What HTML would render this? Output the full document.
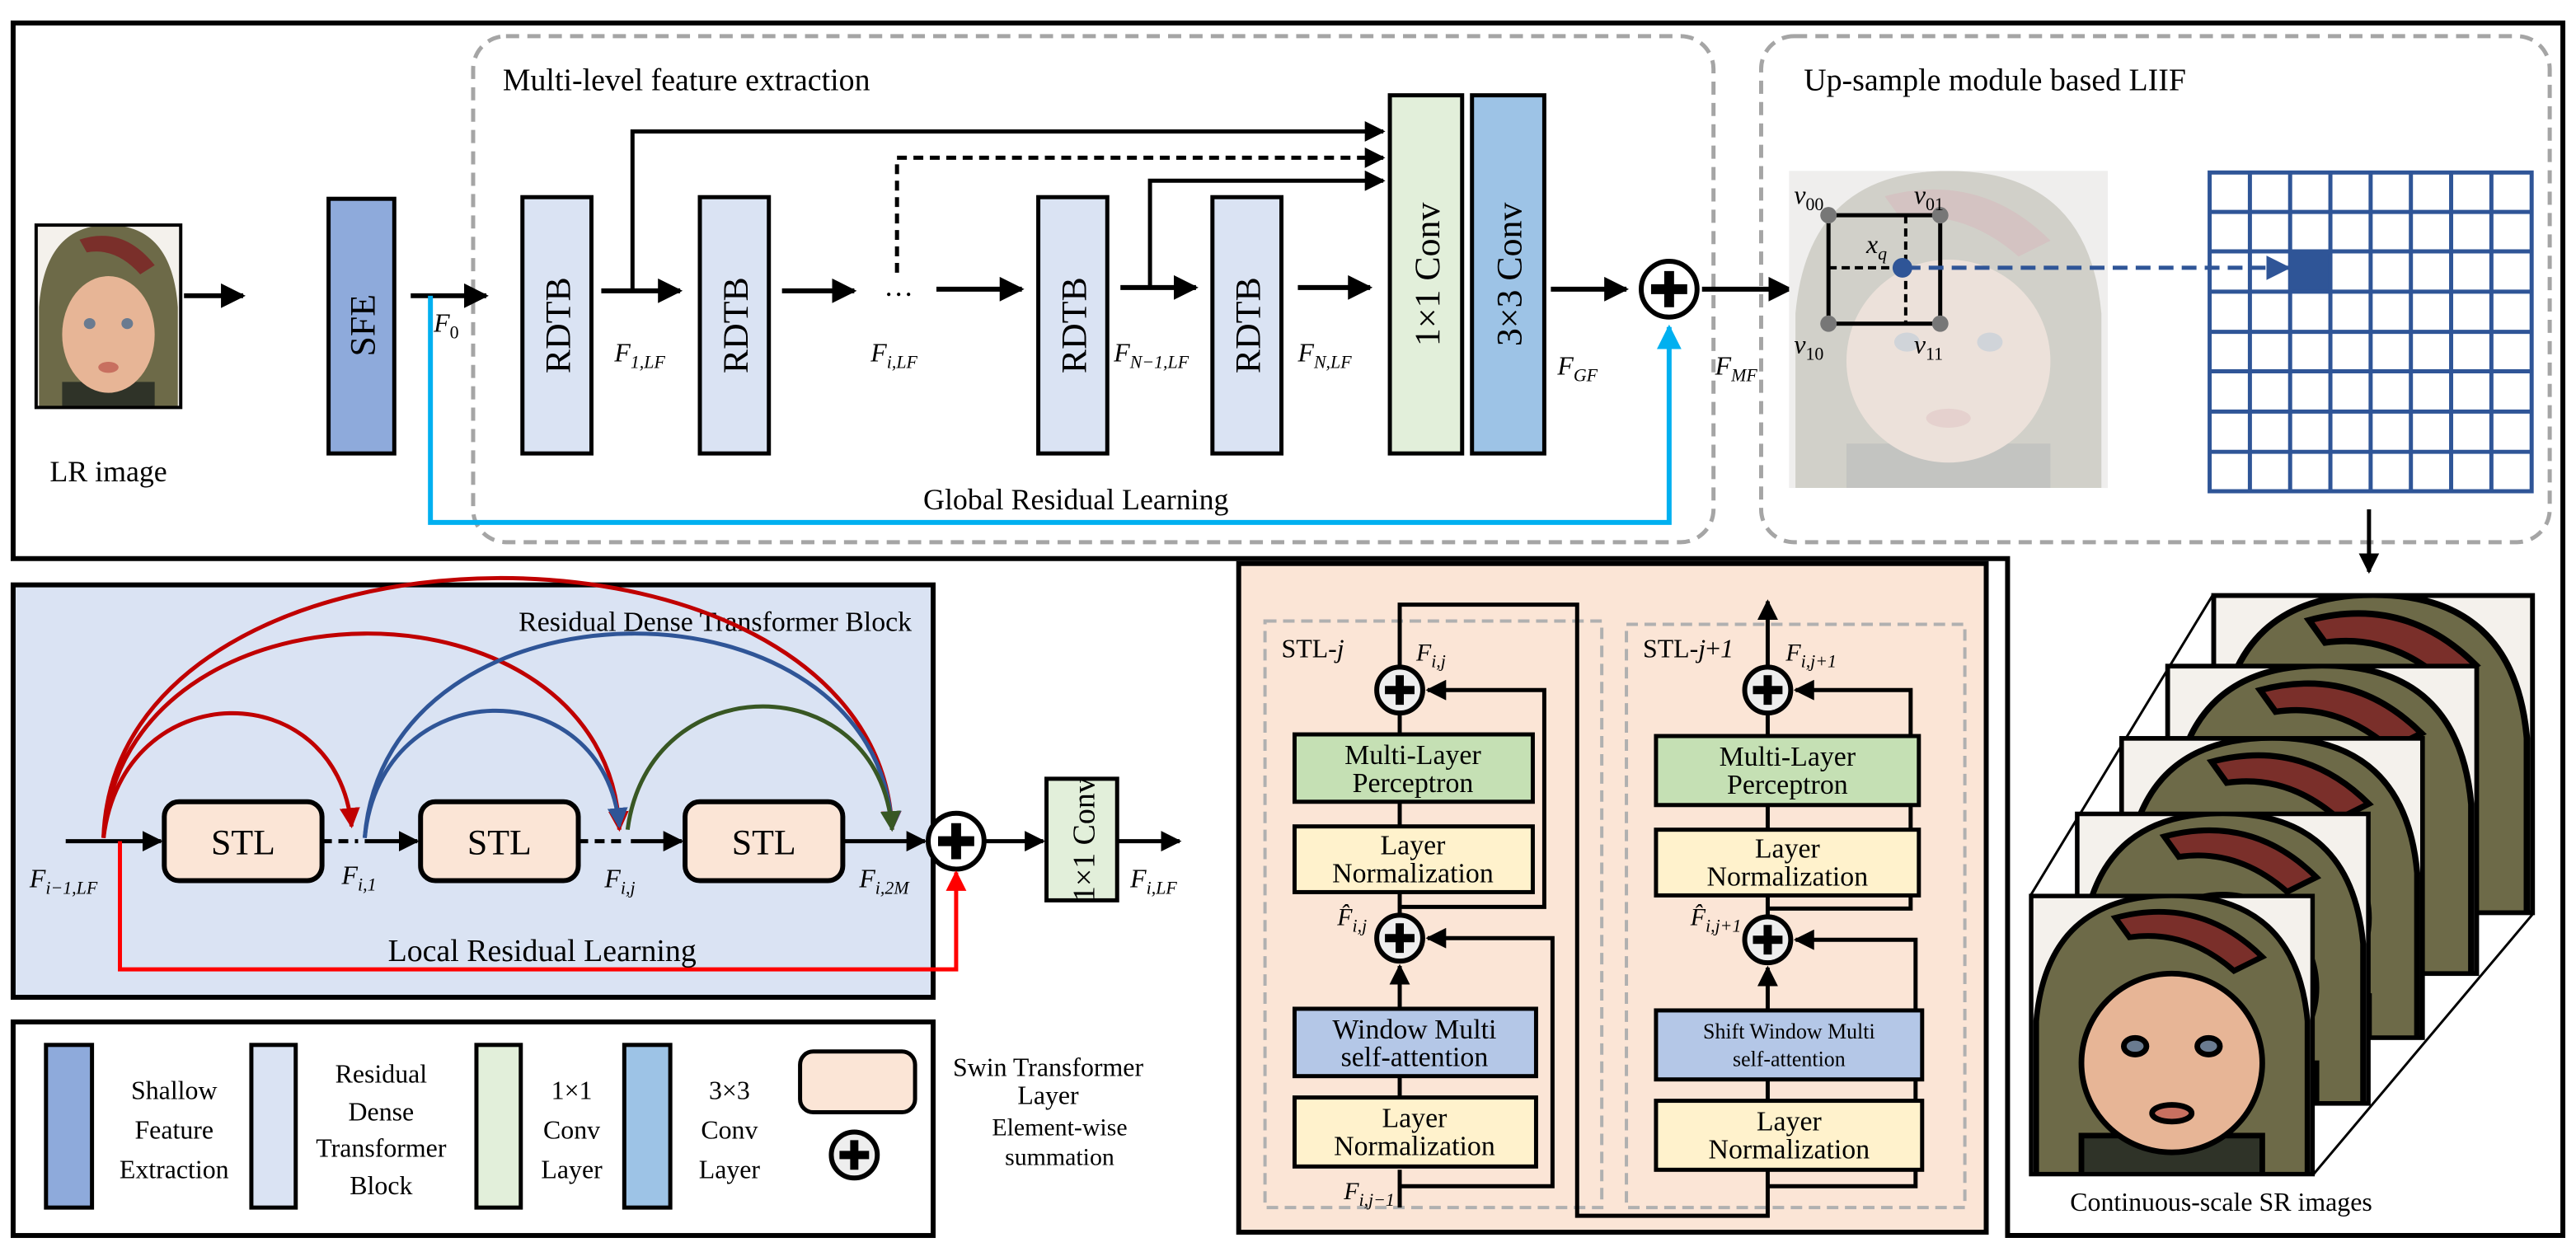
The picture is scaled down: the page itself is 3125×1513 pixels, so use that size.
<!DOCTYPE html>
<html><head><meta charset="utf-8"><style>
html,body{margin:0;padding:0;background:#fff}
svg{display:block}
svg text{font-family:"Liberation Serif","DejaVu Serif",serif;fill:#000}
</style></head><body>
<svg width="3125" height="1513" viewBox="0 0 1568 759" preserveAspectRatio="none" xmlns="http://www.w3.org/2000/svg" font-family="Liberation Serif, DejaVu Serif, serif">
<defs>
<marker id="a" viewBox="0 0 10 10" refX="9" refY="5" markerWidth="5" markerHeight="5" orient="auto" markerUnits="strokeWidth"><path d="M0,0L10,5L0,10z" fill="#000"/></marker>
<marker id="ab" viewBox="0 0 10 10" refX="9" refY="5" markerWidth="5" markerHeight="5" orient="auto" markerUnits="strokeWidth"><path d="M0,0L10,5L0,10z" fill="#00b0f0"/></marker>
<marker id="ar" viewBox="0 0 10 10" refX="9" refY="5" markerWidth="5" markerHeight="5" orient="auto" markerUnits="strokeWidth"><path d="M0,0L10,5L0,10z" fill="#c00000"/></marker>
<marker id="arr" viewBox="0 0 10 10" refX="9" refY="5" markerWidth="5" markerHeight="5" orient="auto" markerUnits="strokeWidth"><path d="M0,0L10,5L0,10z" fill="#ff0000"/></marker>
<marker id="abl" viewBox="0 0 10 10" refX="9" refY="5" markerWidth="5" markerHeight="5" orient="auto" markerUnits="strokeWidth"><path d="M0,0L10,5L0,10z" fill="#2f5597"/></marker>
<marker id="ag" viewBox="0 0 10 10" refX="9" refY="5" markerWidth="5" markerHeight="5" orient="auto" markerUnits="strokeWidth"><path d="M0,0L10,5L0,10z" fill="#385723"/></marker>
<marker id="ad" viewBox="0 0 10 10" refX="9" refY="5" markerWidth="6" markerHeight="6" orient="auto" markerUnits="strokeWidth"><path d="M0,0L10,5L0,10z" fill="#2f5597"/></marker>
<symbol id="face" viewBox="0 0 100 100" preserveAspectRatio="none">
<rect width="100" height="100" fill="#f4f1ec"/>
<path d="M2,100 L2,45 Q6,0 50,0 Q94,0 98,45 L98,100 Z" fill="#6d6a48"/>
<path d="M30,8 Q60,0 82,22 L72,27 Q55,12 35,15Z" fill="#7a2f2a"/>
<rect x="18" y="86" width="64" height="14" fill="#2f3328"/>
<ellipse cx="50" cy="60" rx="32" ry="32" fill="#e7b596"/>
<ellipse cx="37" cy="54" rx="4" ry="3" fill="#6a7b90"/>
<ellipse cx="63" cy="54" rx="4" ry="3" fill="#6a7b90"/>
<ellipse cx="50" cy="78" rx="7" ry="3" fill="#c87060"/>
</symbol>
<g id="plus"><circle r="17" fill="#fff" stroke="#000" stroke-width="3"/><path d="M-11,0H11M0,-11V11" stroke="#000" stroke-width="6"/></g>
<g id="plus2"><circle r="14" fill="#eee" stroke="#000" stroke-width="3"/><path d="M-9,0H9M0,-9V9" stroke="#000" stroke-width="5"/></g>
</defs>

<path d="M8,14H1560V752H1222V340H8Z" fill="none" stroke="#000" stroke-width="3"/>

<svg x="22" y="137" width="88" height="111"><use href="#face" width="88" height="111"/></svg>
<rect x="22" y="137" width="88" height="111" fill="none" stroke="#000" stroke-width="2"/>
<text x="66" y="293" font-size="18" text-anchor="middle">LR image</text>
<line x1="112" y1="180" x2="148" y2="180" stroke="#000" stroke-width="3" marker-end="url(#a)"/>

<rect x="200" y="121" width="40" height="155" fill="#8eaadb" stroke="#000" stroke-width="2.5"/>
<text transform="translate(228,198) rotate(-90)" font-size="22" text-anchor="middle">SFE</text>

<rect x="288" y="22" width="755" height="308" rx="20" fill="none" stroke="#a5a5a5" stroke-width="2.5" stroke-dasharray="8,5"/>
<text x="306" y="55" font-size="19">Multi-level feature extraction</text>
<rect x="1072" y="22" width="480" height="308" rx="20" fill="none" stroke="#a5a5a5" stroke-width="2.5" stroke-dasharray="8,5"/>
<text x="1098" y="55" font-size="19">Up-sample module based LIIF</text>

<line x1="250" y1="180" x2="296" y2="180" stroke="#000" stroke-width="3" marker-end="url(#a)"/>
<text x="264" y="202" font-size="16" font-style="italic">F<tspan font-size="11" dy="4" font-style="normal">0</tspan></text>

<g fill="#dae3f3" stroke="#000" stroke-width="2.5">
<rect x="318" y="120" width="42" height="156"/><rect x="426" y="120" width="42" height="156"/>
<rect x="632" y="120" width="42" height="156"/><rect x="738" y="120" width="42" height="156"/>
</g>
<g font-size="22" text-anchor="middle">
<text transform="translate(347,198) rotate(-90)">RDTB</text><text transform="translate(455,198) rotate(-90)">RDTB</text>
<text transform="translate(661,198) rotate(-90)">RDTB</text><text transform="translate(767,198) rotate(-90)">RDTB</text>
</g>
<rect x="846" y="58" width="44" height="218" fill="#e2efda" stroke="#000" stroke-width="2.5"/>
<rect x="896" y="58" width="44" height="218" fill="#9dc3e6" stroke="#000" stroke-width="2.5"/>
<text transform="translate(876,167) rotate(-90)" font-size="22" text-anchor="middle">1×1 Conv</text>
<text transform="translate(926,167) rotate(-90)" font-size="22" text-anchor="middle">3×3 Conv</text>

<g stroke="#000" stroke-width="3" fill="none">
<line x1="366" y1="177" x2="414" y2="177" marker-end="url(#a)"/>
<polyline points="385,177 385,80 842,80" marker-end="url(#a)" stroke-width="2.5"/>
<line x1="476" y1="177" x2="520" y2="177" marker-end="url(#a)"/>
<polyline points="546,166 546,96 842,96" stroke-dasharray="6,4" marker-end="url(#a)" stroke-width="2.5"/>
<line x1="570" y1="176" x2="622" y2="176" marker-end="url(#a)"/>
<line x1="682" y1="175" x2="728" y2="175" marker-end="url(#a)"/>
<polyline points="700,175 700,110 842,110" marker-end="url(#a)" stroke-width="2.5"/>
<line x1="790" y1="175" x2="834" y2="175" marker-end="url(#a)"/>
<line x1="944" y1="176" x2="990" y2="176" marker-end="url(#a)"/>
<line x1="1036" y1="176" x2="1090" y2="176" marker-end="url(#a)"/>
</g>
<text x="538" y="180" font-size="18">…</text>
<g font-size="16" font-style="italic">
<text x="374" y="220">F<tspan font-size="11" dy="4">1,LF</tspan></text>
<text x="530" y="220">F<tspan font-size="11" dy="4">i,LF</tspan></text>
<text x="678" y="220">F<tspan font-size="11" dy="4">N−1,LF</tspan></text>
<text x="790" y="220">F<tspan font-size="11" dy="4">N,LF</tspan></text>
<text x="948" y="228">F<tspan font-size="11" dy="4">GF</tspan></text>
<text x="1044" y="228">F<tspan font-size="11" dy="4">MF</tspan></text>
</g>
<use href="#plus" x="1016" y="176"/>
<polyline points="262,180 262,318 1016,318 1016,199" fill="none" stroke="#00b0f0" stroke-width="3" marker-end="url(#ab)"/>
<text x="562" y="310" font-size="18">Global Residual Learning</text>

<rect x="1089" y="104" width="194" height="193" fill="#eeeeee"/>
<svg x="1089" y="104" width="194" height="193" opacity="0.22"><use href="#face" width="194" height="193"/></svg>
<rect x="1113" y="131" width="68" height="66" fill="none" stroke="#000" stroke-width="2.5"/>
<path d="M1113,163H1160M1160,131V197" stroke="#000" stroke-width="2" stroke-dasharray="5,3"/>
<g fill="#777"><circle cx="1113" cy="131" r="5"/><circle cx="1181" cy="131" r="5"/><circle cx="1113" cy="197" r="5"/><circle cx="1181" cy="197" r="5"/></g>
<line x1="1160" y1="163" x2="1393" y2="163" stroke="#2f5597" stroke-width="2.5" stroke-dasharray="9,5" marker-end="url(#ad)"/>
<circle cx="1158" cy="163" r="6" fill="#2f5597"/>
<g font-size="16" font-style="italic">
<text x="1092" y="124">v<tspan font-size="11" dy="4" font-style="normal">00</tspan></text>
<text x="1165" y="124">v<tspan font-size="11" dy="4" font-style="normal">01</tspan></text>
<text x="1092" y="215">v<tspan font-size="11" dy="4" font-style="normal">10</tspan></text>
<text x="1165" y="215">v<tspan font-size="11" dy="4" font-style="normal">11</tspan></text>
<text x="1136" y="154">x<tspan font-size="11" dy="4">q</tspan></text>
</g>
<rect x="1394" y="153" width="24.5" height="24" fill="#2f5597"/>
<g stroke="#2f5597" stroke-width="2.5" fill="none">
<rect x="1345" y="105" width="196" height="194"/>
<path d="M1369.5,105V299M1394,105V299M1418.5,105V299M1443,105V299M1467.5,105V299M1492,105V299M1516.5,105V299
M1345,129H1541M1345,153H1541M1345,177.5H1541M1345,202H1541M1345,226H1541M1345,250.5H1541M1345,275H1541"/>
</g>
<line x1="1442" y1="310" x2="1442" y2="348" stroke="#000" stroke-width="2.5" marker-end="url(#a)"/>

<path d="M1236,545L1347,362M1408,715L1542,556" stroke="#000" stroke-width="1.5"/>
<g stroke="#000" stroke-width="2">
<svg x="1347" y="362" width="195" height="194"><use href="#face" width="195" height="194"/></svg><rect x="1347" y="362" width="195" height="194" fill="none"/>
<svg x="1319" y="405" width="189" height="188"><use href="#face" width="189" height="188"/></svg><rect x="1319" y="405" width="189" height="188" fill="none"/>
<svg x="1291" y="449" width="184" height="183"><use href="#face" width="184" height="183"/></svg><rect x="1291" y="449" width="184" height="183" fill="none"/>
<svg x="1264" y="495" width="178" height="177"><use href="#face" width="178" height="177"/></svg><rect x="1264" y="495" width="178" height="177" fill="none"/>
<svg x="1236" y="545" width="172" height="170"><use href="#face" width="172" height="170"/></svg><rect x="1236" y="545" width="172" height="170" fill="none"/>
</g>
<text x="1352" y="737" font-size="16" text-anchor="middle">Continuous-scale SR images</text>

<rect x="8" y="356" width="560" height="251" fill="#dae3f3" stroke="#000" stroke-width="3"/>
<text x="555" y="384" font-size="17" text-anchor="end">Residual Dense Transformer Block</text>
<g fill="#fbe5d6" stroke="#000" stroke-width="3">
<rect x="100" y="488" width="96" height="48" rx="9"/><rect x="256" y="488" width="96" height="48" rx="9"/><rect x="417" y="488" width="96" height="48" rx="9"/>
</g>
<g font-size="22" text-anchor="middle"><text x="148" y="520">STL</text><text x="304" y="520">STL</text><text x="465" y="520">STL</text></g>
<g stroke="#000" stroke-width="2.5" fill="none">
<line x1="40" y1="512" x2="98" y2="512" marker-end="url(#a)"/>
<line x1="196" y1="512" x2="218" y2="512" stroke-dasharray="6,4"/>
<line x1="222" y1="512" x2="254" y2="512" marker-end="url(#a)"/>
<line x1="352" y1="512" x2="380" y2="512" stroke-dasharray="6,4"/>
<line x1="384" y1="512" x2="415" y2="512" marker-end="url(#a)"/>
<line x1="513" y1="512" x2="563" y2="512" marker-end="url(#a)"/>
<line x1="600" y1="512" x2="635" y2="512" marker-end="url(#a)"/>
<line x1="680" y1="512" x2="718" y2="512" marker-end="url(#a)"/>
</g>
<use href="#plus" x="582" y="512"/>
<rect x="637" y="474" width="43" height="74" fill="#e2efda" stroke="#000" stroke-width="2.5"/>
<text transform="translate(666,511) rotate(-90)" font-size="19" text-anchor="middle">1×1 Conv</text>
<polyline points="73,512 73,590 582,590 582,531" fill="none" stroke="#ff0000" stroke-width="2.5" marker-end="url(#arr)"/>
<text x="330" y="585" font-size="19" text-anchor="middle">Local Residual Learning</text>
<g fill="none" stroke-width="2.5">
<path d="M63,510 C70,300 535,300 543,505" stroke="#c00000" marker-end="url(#ar)"/>
<path d="M63,510 C75,345 370,345 377,505" stroke="#c00000" marker-end="url(#ar)"/>
<path d="M63,510 C75,410 205,410 214,503" stroke="#c00000" marker-end="url(#ar)"/>
<path d="M222,510 C235,345 535,345 543,505" stroke="#2f5597" marker-end="url(#abl)"/>
<path d="M222,510 C232,408 368,408 377,503" stroke="#2f5597" marker-end="url(#abl)"/>
<path d="M382,505 C395,405 535,405 543,505" stroke="#385723" marker-end="url(#ag)"/>
</g>
<g font-size="16" font-style="italic">
<text x="18" y="540">F<tspan font-size="11" dy="4">i−1,LF</tspan></text>
<text x="208" y="538">F<tspan font-size="11" dy="4">i,1</tspan></text>
<text x="368" y="540">F<tspan font-size="11" dy="4">i,j</tspan></text>
<text x="523" y="540">F<tspan font-size="11" dy="4">i,2M</tspan></text>
<text x="688" y="540">F<tspan font-size="11" dy="4">i,LF</tspan></text>
</g>

<rect x="8" y="622" width="560" height="130" fill="#fff" stroke="#000" stroke-width="3"/>
<g stroke="#000" stroke-width="2.5">
<rect x="28" y="636" width="28" height="99" fill="#8eaadb"/>
<rect x="153" y="636" width="27" height="99" fill="#dae3f3"/>
<rect x="290" y="636" width="27" height="99" fill="#e2efda"/>
<rect x="380" y="636" width="28" height="99" fill="#9dc3e6"/>
<rect x="487" y="640" width="70" height="37" rx="8" fill="#fbe5d6"/>
</g>
<use href="#plus2" x="520" y="703"/>
<g font-size="16" text-anchor="middle">
<text x="106" y="669">Shallow</text><text x="106" y="693">Feature</text><text x="106" y="717">Extraction</text>
<text x="232" y="659">Residual</text><text x="232" y="682">Dense</text><text x="232" y="704">Transformer</text><text x="232" y="727">Block</text>
<text x="348" y="669">1×1</text><text x="348" y="693">Conv</text><text x="348" y="717">Layer</text>
<text x="444" y="669">3×3</text><text x="444" y="693">Conv</text><text x="444" y="717">Layer</text>
<text x="638" y="655">Swin Transformer</text><text x="638" y="672">Layer</text>
<text x="645" y="691" font-size="15">Element-wise</text><text x="645" y="709" font-size="15">summation</text>
</g>

<rect x="754" y="343" width="455" height="407" fill="#fbe5d6" stroke="#000" stroke-width="3"/>
<rect x="770" y="378" width="205" height="357" fill="none" stroke="#b0b0b0" stroke-width="2" stroke-dasharray="7,4"/>
<rect x="990" y="380" width="206" height="355" fill="none" stroke="#b0b0b0" stroke-width="2" stroke-dasharray="7,4"/>
<g stroke="#000" stroke-width="2.5" fill="none">
<polyline points="852,735 852,712"/>
<polyline points="852,722 945,722 945,571 869,571" marker-end="url(#a)"/>
<polyline points="852,668 852,655"/>
<line x1="852" y1="614" x2="852" y2="588" marker-end="url(#a)"/>
<polyline points="852,556 852,543"/>
<polyline points="852,552 940,552 940,420 869,420" marker-end="url(#a)"/>
<polyline points="852,503 852,488"/>
<polyline points="852,447 852,435"/>
<polyline points="852,405 852,368 960,368 960,740 1076,740 1076,712"/>
<polyline points="1076,722 1166,722 1166,572 1093,572" marker-end="url(#a)"/>
<polyline points="1076,670 1076,657"/>
<line x1="1076" y1="615" x2="1076" y2="589" marker-end="url(#a)"/>
<polyline points="1076,557 1076,545"/>
<polyline points="1076,553 1163,553 1163,420 1093,420" marker-end="url(#a)"/>
<polyline points="1076,505 1076,490"/>
<polyline points="1076,448 1076,435"/>
<line x1="1076" y1="405" x2="1076" y2="366" marker-end="url(#a)"/>
</g>
<use href="#plus2" x="852" y="420"/><use href="#plus2" x="852" y="571"/>
<use href="#plus2" x="1076" y="420"/><use href="#plus2" x="1076" y="572"/>
<g stroke="#000" stroke-width="2.5">
<rect x="788" y="447" width="145" height="41" fill="#c5e0b4"/>
<rect x="788" y="503" width="145" height="40" fill="#fff2cc"/>
<rect x="788" y="614" width="147" height="41" fill="#b4c7e7"/>
<rect x="788" y="668" width="147" height="42" fill="#fff2cc"/>
<rect x="1008" y="448" width="160" height="42" fill="#c5e0b4"/>
<rect x="1008" y="505" width="160" height="40" fill="#fff2cc"/>
<rect x="1008" y="615" width="162" height="42" fill="#b4c7e7"/>
<rect x="1008" y="670" width="162" height="42" fill="#fff2cc"/>
</g>
<g font-size="17" text-anchor="middle">
<text x="860" y="465">Multi-Layer</text><text x="860" y="482">Perceptron</text>
<text x="860" y="520">Layer</text><text x="860" y="537">Normalization</text>
<text x="861" y="632">Window Multi</text><text x="861" y="649">self-attention</text>
<text x="861" y="686">Layer</text><text x="861" y="703">Normalization</text>
<text x="1088" y="466">Multi-Layer</text><text x="1088" y="483">Perceptron</text>
<text x="1088" y="522">Layer</text><text x="1088" y="539">Normalization</text>
<text x="1089" y="632" font-size="13">Shift Window Multi</text><text x="1089" y="649" font-size="13">self-attention</text>
<text x="1089" y="688">Layer</text><text x="1089" y="705">Normalization</text>
</g>
<text x="780" y="400" font-size="16">STL-<tspan font-style="italic">j</tspan></text>
<text x="1000" y="400" font-size="16">STL-<tspan font-style="italic">j</tspan>+<tspan font-style="italic">1</tspan></text>
<g font-size="15" font-style="italic">
<text x="862" y="402">F<tspan font-size="11" dy="4">i,j</tspan></text>
<text x="1087" y="402">F<tspan font-size="11" dy="4">i,j+1</tspan></text>
<text x="814" y="563">F̂<tspan font-size="11" dy="4">i,j</tspan></text>
<text x="1029" y="563">F̂<tspan font-size="11" dy="4">i,j+1</tspan></text>
<text x="818" y="730">F<tspan font-size="11" dy="4">i,j−1</tspan></text>
</g>
</svg>
</body></html>
